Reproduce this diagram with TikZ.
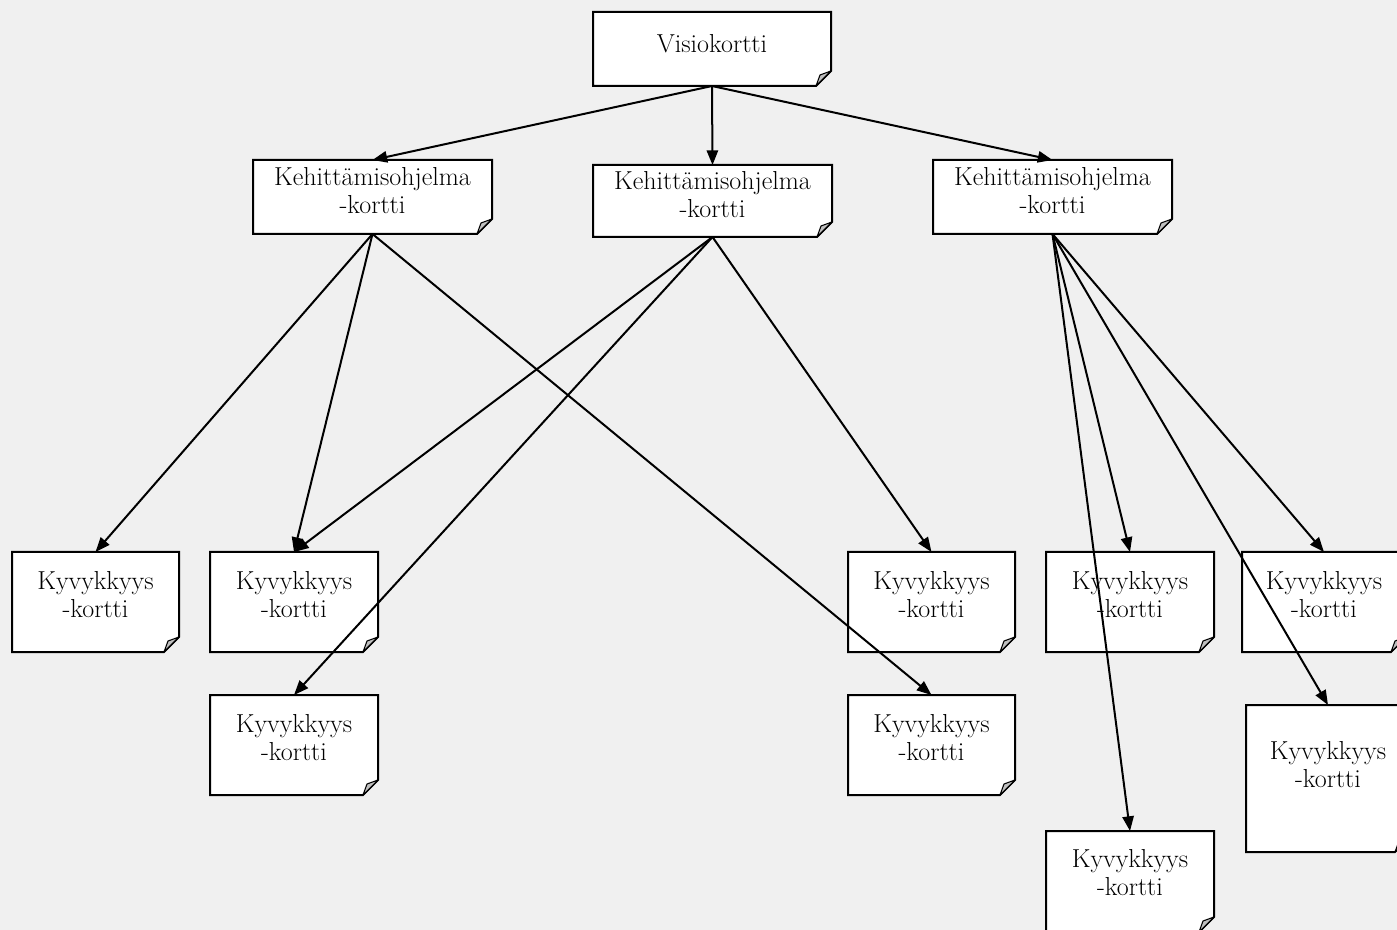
\documentclass[tikz,border=0pt]{standalone}
\usetikzlibrary{arrows.meta}
\definecolor{bg}{HTML}{F0F0F0}
\definecolor{foldgray}{HTML}{C0C0C0}
\tikzset{
 cardshape/.style={fill=white, draw=black, line width=1.5pt, line join=miter},
 foldshape/.style={fill=foldgray, draw=black, line width=0.8pt, line join=round},
 cardnode/.style={draw=none, inner sep=0pt, outer sep=0pt, rectangle},
 cardtext/.style={align=center, inner sep=0pt, font=\fontsize{19.5}{21}\selectfont},
 arr/.style={line width=1.5pt, -{Triangle[length=11pt,width=8.5pt]}},
}
\newcommand\card[7]{%
 \path[cardshape] (#2,#3) -- (#4,#3) -- (#4,#5-15) -- (#4-15,#5) -- (#2,#5) -- cycle;
 \path[foldshape] (#4,#5-15) -- (#4-11,#5-11) -- (#4-15,#5) -- cycle;
 \node[cardnode, minimum width={0.75pt*(#4-#2)}, minimum height={0.75pt*(#5-#3)}] (#1) at ({(#2+#4)/2},{(#3+#5)/2}) {};
 \node[cardtext] (#1t) at ({(#2+#4)/2},{(#3+#5)/2-#6}) {#7};
}
\begin{document}
\begin{tikzpicture}[x=0.75pt,y=-0.75pt]
\useasboundingbox (0,0) rectangle (1397,930);
\fill[bg] (0,0) rectangle (1397,930);
\clip (0,0) rectangle (1397,930);
\card{v}{593}{12}{831}{86}{5}{Visiokortti}
\card{ka}{253}{160}{492}{234}{6}{Kehittämisohjelma\\-kortti}
\card{kb}{593}{165}{832}{237}{6}{Kehittämisohjelma\\-kortti}
\card{kc}{933}{160}{1172}{234}{6}{Kehittämisohjelma\\-kortti}
\card{ca}{12}{552}{179}{652}{7}{Kyvykkyys\\-kortti}
\card{cb}{210}{552}{378}{652}{7}{Kyvykkyys\\-kortti}
\card{cc}{210}{695}{378}{795}{7}{Kyvykkyys\\-kortti}
\card{cd}{848}{552}{1015}{652}{7}{Kyvykkyys\\-kortti}
\card{ce}{848}{695}{1015}{795}{7}{Kyvykkyys\\-kortti}
\card{cf}{1046}{552}{1214}{652}{7}{Kyvykkyys\\-kortti}
\card{cg}{1242}{552}{1406}{652}{7}{Kyvykkyys\\-kortti}
\card{ch}{1246}{705}{1410}{852}{14}{Kyvykkyys\\-kortti}
\card{ci}{1046}{831}{1214}{932}{9}{Kyvykkyys\\-kortti}
\draw[arr] (v.south) -- (ka.north);
\draw[arr] (v.south) -- (kb.north);
\draw[arr] (v.south) -- (kc.north);
\draw[arr] (ka.south) -- (ca.north);
\draw[arr] (ka.south) -- (cb.north);
\draw[arr] (ka.south) -- (ce.north);
\draw[arr] (kb.south) -- (cb.north);
\draw[arr] (kb.south) -- (cc.north);
\draw[arr] (kb.south) -- (cd.north);
\draw[arr] (kc.south) -- (cf.north);
\draw[arr] (kc.south) -- (cg.north);
\draw[arr] (kc.south) -- (ch.north);
\draw[arr] (kc.south) -- (ci.north);
\end{tikzpicture}
\end{document}
